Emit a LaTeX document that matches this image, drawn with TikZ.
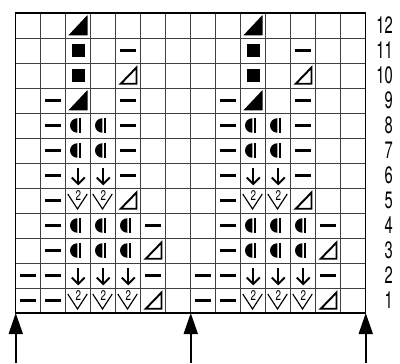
\documentclass[tikz,border=0pt]{standalone}
\usepackage{fontspec}
\setmainfont{TeX Gyre Heros}
\usepackage{graphicx}
\usetikzlibrary{arrows.meta}

\tikzset{
  grid line/.style={draw=black!75, line width=0.9pt},
  row label/.style={anchor=east, inner sep=0pt, font=\fontsize{27}{27}\selectfont},
  pics/purl/.style={code={\draw[line width=2.6pt] (-0.32,0) -- (0.32,0);}},
  pics/ftri/.style={code={\fill[rounded corners=0.5pt] (-0.4,-0.4) -- (0.37,-0.4) -- (0.37,0.42) -- cycle;}},
  pics/otri/.style={code={\draw[line width=2.2pt] (-0.3,-0.33) -- (0.33,-0.33) -- (0.33,0.32) -- cycle;}},
  pics/sqbox/.style={code={\fill (-0.26,-0.26) rectangle (0.26,0.26);}},
  pics/bobble/.style={code={
    \fill (-0.04,0.29) arc[start angle=90, end angle=270, radius=0.29] -- cycle;
    \fill (0.03,-0.29) rectangle (0.12,0.29);}},
  pics/darrow/.style={code={
    \draw[line width=2.2pt] (0,0.3) -- (0,-0.3);
    \draw[line width=2.2pt] (-0.26,-0.08) -- (0,-0.34) -- (0.26,-0.08);}},
  pics/vtwo/.style={code={
    \draw[line width=1.3pt] (-0.42,0.26) -- (-0.03,-0.34) -- (0.36,0.26);
    \node[inner sep=0pt, font=\fontsize{16}{16}\selectfont] (two) at (0,0.2) {\scalebox{0.7}[1]{2}};}}
}

\begin{document}
\begin{tikzpicture}
  \useasboundingbox (-0.63,-2) rectangle (15.37,12.52);

  % Chart grid
  \draw[grid line] (0,0) grid (14,12);
  \draw[line width=1.6pt] (0,0) rectangle (14,12);

  % Stitch symbols, two repeats of 7 columns
  \foreach \k in {0,7} {
    \foreach \c/\r in {4/11,1/9,4/9,1/8,4/8,1/7,4/7,1/6,4/6,1/5,1/4,5/4,1/3,0/2,1/2,5/2,0/1,1/1}
      \pic at (\k+\c+0.5,\r-0.5) {purl};
    \foreach \c/\r in {2/12,2/9}
      \pic at (\k+\c+0.5,\r-0.5) {ftri};
    \foreach \c/\r in {2/11,2/10}
      \pic at (\k+\c+0.5,\r-0.5) {sqbox};
    \foreach \c/\r in {4/10,4/5,5/3,5/1}
      \pic at (\k+\c+0.5,\r-0.5) {otri};
    \foreach \c/\r in {2/8,3/8,2/7,3/7,2/4,3/4,4/4,2/3,3/3,4/3}
      \pic at (\k+\c+0.5,\r-0.5) {bobble};
    \foreach \c/\r in {2/6,3/6,2/2,3/2,4/2}
      \pic at (\k+\c+0.5,\r-0.5) {darrow};
    \foreach \c/\r in {2/5,3/5,2/1,3/1,4/1}
      \pic (v\k-\c-\r) at (\k+\c+0.5,\r-0.5) {vtwo};
  }

  % Row numbers
  \foreach \r in {1,...,12}
    \node[row label] (r\r) at (15.09,\r-0.5) {\scalebox{0.62}[1]{\r}};

  % Repeat markers
  \foreach \x [count=\i] in {0,7,14} {
    \coordinate (b\i) at (\x,-2);
    \coordinate (t\i) at (\x,0);
    \draw[-{Triangle[length=0.84cm,width=0.56cm]}, line width=2pt] (b\i) -- (t\i);
  }
\end{tikzpicture}
\end{document}
